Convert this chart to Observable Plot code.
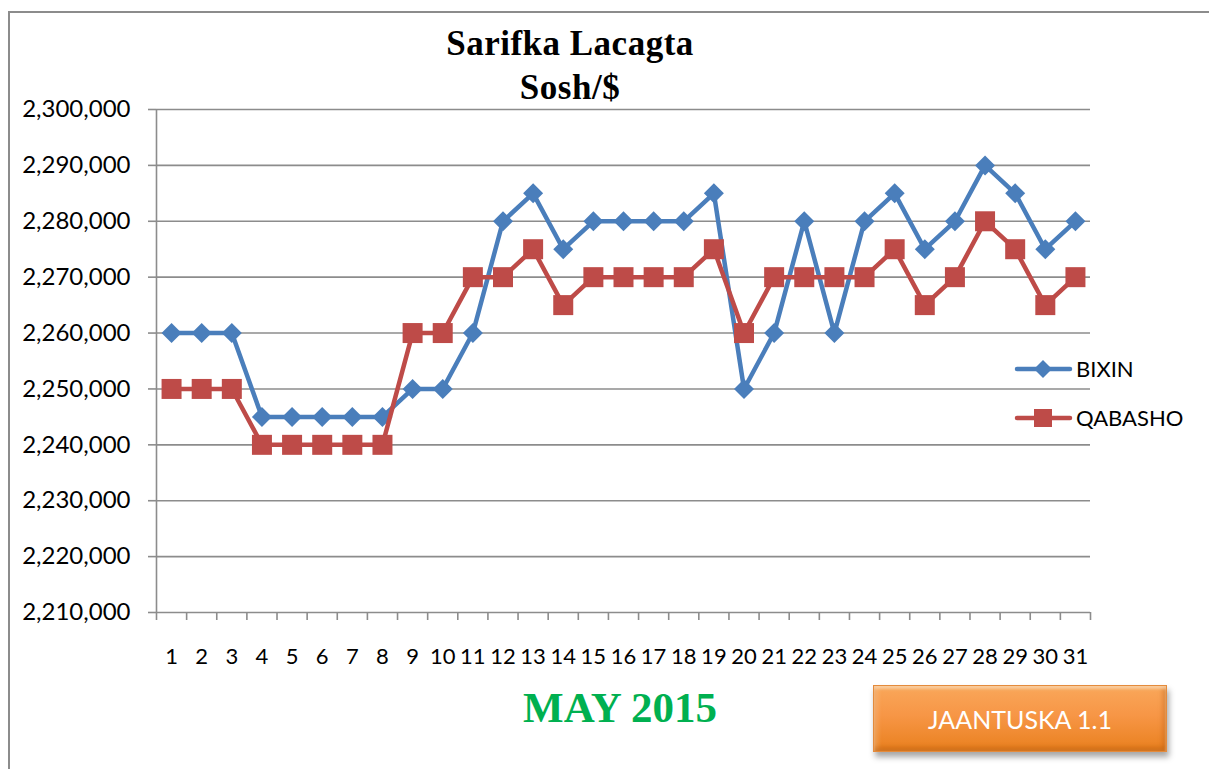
<!DOCTYPE html>
<html>
<head>
<meta charset="utf-8">
<script src="https://cdn.jsdelivr.net/npm/d3@7"></script>
<script src="https://cdn.jsdelivr.net/npm/@observablehq/plot@0.6"></script>
<style>
  html, body { margin: 0; padding: 0; background: #fff; }
  #wrap { position: relative; width: 1209px; height: 769px; overflow: hidden; background: #fff; }
  #frame { position: absolute; left: 8px; top: 11px; width: 1300px; height: 900px;
           border-left: 2px solid #8c8c8c; border-top: 2px solid #8c8c8c; box-sizing: border-box; }
  #chart { position: absolute; left: 0; top: 0; }
  .title { position: absolute; left: 370px; width: 400px; text-align: center;
           font-family: "Liberation Serif", "Times New Roman", serif; font-weight: bold;
           font-size: 35px; letter-spacing: 0.5px; line-height: 44px; color: #000; top: 22px; }
  .may { position: absolute; left: 470px; width: 300px; text-align: center; top: 684px;
         font-family: "Liberation Serif", "Times New Roman", serif; font-weight: bold;
         font-size: 43px; color: #00B050; line-height: 48px; }
  .btn { position: absolute; left: 873px; top: 685px; width: 294px; height: 67px; box-sizing: border-box;
         background: linear-gradient(to bottom, #F9A75A 0%, #F79646 45%, #E9801E 100%);
         border: 1px solid #E48B3C;
         box-shadow: inset 0 3px 3px rgba(255,230,200,0.6), inset 0 -4px 4px rgba(170,80,10,0.35),
                     inset 4px 0 4px rgba(255,220,180,0.3), inset -4px 0 4px rgba(170,80,10,0.25),
                     2px 5px 6px rgba(0,0,0,0.35);
         color: #fff; font-family: Lato, "Open Sans", sans-serif; font-size: 25px;
         display: flex; align-items: center; justify-content: center; }
  #legend { position: absolute; left: 0; top: 0; }
</style>
</head>
<body>
<div id="wrap">
  <div id="frame"></div>
  <div id="chart"></div>
  <div class="title">Sarifka Lacagta<br>Sosh/$</div>
  <div class="may">MAY 2015</div>
  <div class="btn">JAANTUSKA 1.1</div>
</div>
<script>
const days = [1,2,3,4,5,6,7,8,9,10,11,12,13,14,15,16,17,18,19,20,21,22,23,24,25,26,27,28,29,30,31];
const bixin = [2260000,2260000,2260000,2245000,2245000,2245000,2245000,2245000,2250000,2250000,
               2260000,2280000,2285000,2275000,2280000,2280000,2280000,2280000,2285000,2250000,
               2260000,2280000,2260000,2280000,2285000,2275000,2280000,2290000,2285000,2275000,2280000];
const qabasho = [2250000,2250000,2250000,2240000,2240000,2240000,2240000,2240000,2260000,2260000,
                 2270000,2270000,2275000,2265000,2270000,2270000,2270000,2270000,2275000,2260000,
                 2270000,2270000,2270000,2270000,2275000,2265000,2270000,2280000,2275000,2265000,2270000];
const yTicks = [2210000,2220000,2230000,2240000,2250000,2260000,2270000,2280000,2290000,2300000];
const seriesNames = ["BIXIN", "QABASHO"];
const seriesColors = ["#4A7EBB", "#BE4B48"];

const bixinData = days.map((d, i) => ({day: d, value: bixin[i]}));
const qabashoData = days.map((d, i) => ({day: d, value: qabasho[i]}));
const xEdges = [0.5].concat(days.map(d => d + 0.5));

const diamond = {draw(ctx, size) { const r = Math.sqrt(size / Math.PI); ctx.moveTo(0, -r); ctx.lineTo(r, 0); ctx.lineTo(0, r); ctx.lineTo(-r, 0); ctx.closePath(); }};
const square = {draw(ctx, size) { const r = Math.sqrt(size / Math.PI); ctx.rect(-r, -r, 2 * r, 2 * r); }};

const grid = "#8c8c8c";
const chart = Plot.plot({
  width: 1209, height: 769,
  marginLeft: 156, marginRight: 119, marginTop: 109, marginBottom: 157,
  x: {domain: [0.5, 31.5]},
  y: {domain: [2210000, 2300000]},
  style: {background: "transparent", fontFamily: "Lato, 'Open Sans', sans-serif", fontSize: "22px", color: "#000"},
  marks: [
    Plot.ruleY(yTicks, {stroke: grid, strokeWidth: 1.6}),
    Plot.ruleX([0.5], {stroke: grid, strokeWidth: 1.6}),
    Plot.axisY({ticks: yTicks, tickSize: 8, tickPadding: 18, tickFormat: d3.format(","), label: null, stroke: grid, strokeWidth: 1.6, fill: "#000", fontSize: 24}),
    Plot.axisX({ticks: xEdges, tickSize: 8, tickFormat: () => "", label: null, stroke: grid, strokeWidth: 1.6}),
    Plot.axisX({ticks: days, tickSize: 0, tickPadding: 36, tickFormat: d => String(d), label: null, fill: "#000"}),
    Plot.line(bixinData, {x: "day", y: "value", stroke: seriesColors[0], strokeWidth: 4.5}),
    Plot.dot(bixinData, {x: "day", y: "value", symbol: diamond, r: 10, fill: seriesColors[0], stroke: "none"}),
    Plot.line(qabashoData, {x: "day", y: "value", stroke: seriesColors[1], strokeWidth: 4.5}),
    Plot.dot(qabashoData, {x: "day", y: "value", symbol: square, r: 10, fill: seriesColors[1], stroke: "none"})
  ]
});
document.getElementById("chart").appendChild(chart);

// Legend
const ns = "http://www.w3.org/2000/svg";
const lg = document.createElementNS(ns, "svg");
lg.setAttribute("id", "legend");
lg.setAttribute("width", 1209); lg.setAttribute("height", 769);
const legendY = [369, 418];
seriesNames.forEach((name, i) => {
  const y = legendY[i];
  const line = document.createElementNS(ns, "line");
  line.setAttribute("x1", 1017); line.setAttribute("x2", 1070);
  line.setAttribute("y1", y); line.setAttribute("y2", y);
  line.setAttribute("stroke", seriesColors[i]); line.setAttribute("stroke-width", 4.5);
  line.setAttribute("stroke-linecap", "round");
  lg.appendChild(line);
  const m = document.createElementNS(ns, "path");
  const cx = 1043;
  if (i === 0) m.setAttribute("d", `M${cx},${y-9}L${cx+9},${y}L${cx},${y+9}L${cx-9},${y}Z`);
  else m.setAttribute("d", `M${cx-9},${y-9}h18v18h-18Z`);
  m.setAttribute("fill", seriesColors[i]);
  lg.appendChild(m);
  const t = document.createElementNS(ns, "text");
  t.setAttribute("x", 1076); t.setAttribute("y", y);
  t.setAttribute("dy", "0.35em");
  t.setAttribute("font-family", "Lato, 'Open Sans', sans-serif");
  t.setAttribute("font-size", "22px");
  t.textContent = name;
  lg.appendChild(t);
});
document.getElementById("wrap").appendChild(lg);
</script>
</body>
</html>
